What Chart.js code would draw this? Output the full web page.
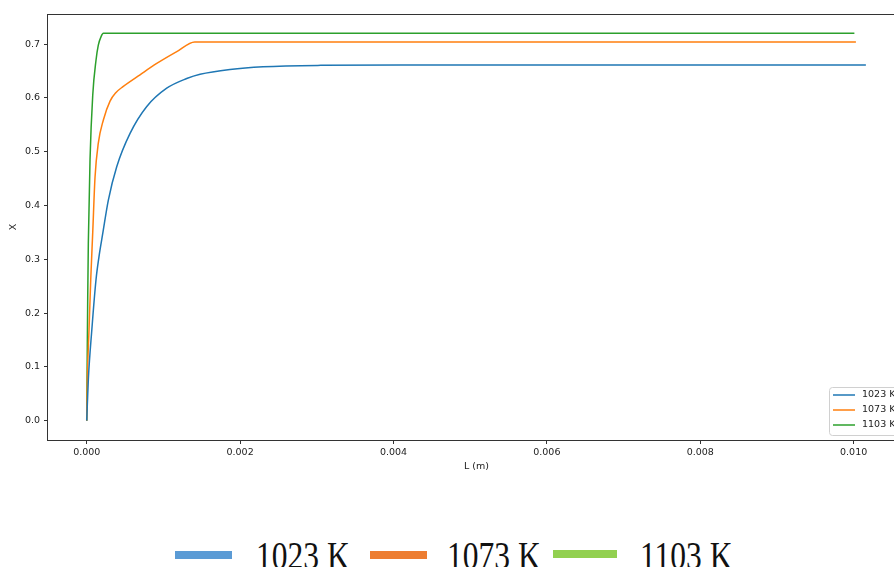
<!DOCTYPE html>
<html>
<head>
<meta charset="utf-8">
<script src="https://cdn.jsdelivr.net/npm/chart.js@4"></script>
<style>
  html, body { margin: 0; padding: 0; background: #fff; overflow: hidden; }
  #wrap { position: relative; width: 894px; height: 567px; overflow: hidden; }
  #c { position: absolute; left: 0; top: 0; }
  .key { position: absolute; height: 8px; }
  .lbl { position: absolute; font-family: "Liberation Serif", "Times New Roman", serif; font-size: 31.5px; line-height: 1; color: #111; white-space: nowrap; transform: scaleY(1.25); transform-origin: top left; }
</style>
</head>
<body>
<div id="wrap">
  <canvas id="c" width="930" height="480"></canvas>
  <div class="key" style="left:175px;top:551px;width:57px;background:#5b9bd5"></div>
  <div class="lbl" style="left:256px;top:536px">1023 K</div>
  <div class="key" style="left:370px;top:551px;width:57px;background:#ed7d31"></div>
  <div class="lbl" style="left:447px;top:536px">1073 K</div>
  <div class="key" style="left:553px;top:550px;width:64px;background:#92d050"></div>
  <div class="lbl" style="left:640px;top:536px">1103 K</div>
</div>
<script>
// series labels and colours
var temps = ["1023 K", "1073 K", "1103 K"];
var lineColors = ["#1f77b4", "#ff7f0e", "#2ca02c"];

// L (m) / X readings per temperature
var L1023 = [0, 0.0000209, 0.0000665, 0.000121, 0.00016, 0.000209, 0.000282, 0.000391, 0.000565, 0.000783, 0.001043, 0.001304, 0.001478, 0.001869, 0.0023, 0.00305, 0.0041, 0.01016];
var X1023 = [0, 0.076, 0.169, 0.262, 0.305, 0.348, 0.41, 0.472, 0.534, 0.584, 0.618, 0.636, 0.644, 0.653, 0.658, 0.6605, 0.661, 0.661];

var L1073 = [0, 0.0000078, 0.00003, 0.0000522, 0.0000783, 0.000108, 0.000151, 0.000217, 0.000304, 0.000382, 0.000473, 0.000695, 0.000913, 0.001174, 0.001408, 0.01003];
var X1073 = [0, 0.076, 0.169, 0.262, 0.35, 0.452, 0.516, 0.559, 0.594, 0.61, 0.621, 0.643, 0.664, 0.686, 0.704, 0.704];

var L1103 = [0, 0.0000065, 0.000013, 0.0000209, 0.000043, 0.0000783, 0.000121, 0.000151, 0.000187, 0.000217, 0.01001];
var X1103 = [0, 0.12, 0.23, 0.33, 0.485, 0.605, 0.67, 0.698, 0.714, 0.72, 0.72];

// axis limits and ticks
var xMin = -0.000505, xMax = 0.01067, xStep = 0.002;
var yMin = -0.036, yMax = 0.756, yStep = 0.1;

function pts(L, X) {
	return L.map(function (l, i) { return { x: l, y: X[i] }; });
}

var series = [pts(L1023, X1023), pts(L1073, X1073), pts(L1103, X1103)];

var axisFont = { family: "DejaVu Sans", size: 9.5 };

var framePlugin = {
	id: "frame",
	afterDatasetsDraw: function (chart) {
		var a = chart.chartArea, ctx = chart.ctx;
		ctx.save();
		ctx.strokeStyle = "#333";
		ctx.lineWidth = 1;
		ctx.strokeRect(Math.round(a.left) - 0.5, Math.round(a.top) + 0.5, Math.round(a.right - a.left) + 1, Math.round(a.bottom - a.top));
		// inner legend (matplotlib style)
		var bx = 829, by = 387, bw = 80, bh = 48;
		ctx.beginPath();
		ctx.roundRect(bx + 0.5, by + 0.5, bw, bh, 3);
		ctx.fillStyle = "rgba(255,255,255,0.85)";
		ctx.fill();
		ctx.strokeStyle = "#d0d0d0";
		ctx.stroke();
		ctx.font = "9.5px 'DejaVu Sans'";
		ctx.textBaseline = "middle";
		temps.forEach(function (t, i) {
			var y = 395 + i * 15;
			ctx.beginPath();
			ctx.moveTo(833, y);
			ctx.lineTo(855, y);
			ctx.strokeStyle = lineColors[i];
			ctx.lineWidth = 1.5;
			ctx.stroke();
			ctx.fillStyle = "#222";
			ctx.fillText(t, 862, y);
		});
		ctx.restore();
	},
};

new Chart(document.getElementById("c"), {
	type: "line",
	data: {
		datasets: temps.map(function (t, i) {
			return {
				label: t,
				data: series[i],
				borderColor: lineColors[i],
				backgroundColor: lineColors[i],
				borderWidth: 1.5,
				pointRadius: 0,
				cubicInterpolationMode: "monotone",
				fill: false,
			};
		}),
	},
	options: {
		responsive: false,
		animation: false,
		devicePixelRatio: 1,
		layout: { padding: { top: 14, right: 25, left: 0, bottom: 0 } },
		plugins: { legend: { display: false }, tooltip: { enabled: false } },
		scales: {
			x: {
				type: "linear",
				min: xMin,
				max: xMax,
				afterFit: function (s) { s.height = 40; },
				grid: { drawOnChartArea: false, drawTicks: true, tickLength: 4, tickColor: "#333", color: "#333" },
				border: { display: false },
				ticks: {
					stepSize: xStep,
					includeBounds: false,
					padding: 3,
					maxRotation: 0,
					color: "#222",
					font: axisFont,
					callback: function (v) { return Number(v).toFixed(3); },
				},
				title: { display: true, text: "L (m)", color: "#222", font: axisFont, padding: { top: 0, bottom: 8 } },
			},
			y: {
				min: yMin,
				max: yMax,
				afterFit: function (s) { s.width = 48; },
				grid: { drawOnChartArea: false, drawTicks: true, tickLength: 4, tickColor: "#333", color: "#333" },
				border: { display: false },
				ticks: {
					stepSize: yStep,
					includeBounds: false,
					padding: 4,
					color: "#222",
					font: axisFont,
					callback: function (v) { return Number(v).toFixed(1); },
				},
				title: { display: true, text: "X", color: "#222", font: axisFont, padding: { top: 8, bottom: 0 } },
			},
		},
	},
	plugins: [framePlugin],
});
</script>
</body>
</html>
